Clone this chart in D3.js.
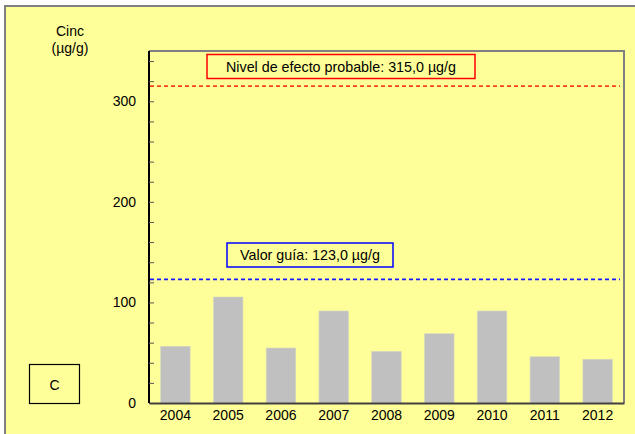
<!DOCTYPE html>
<html>
<head>
<meta charset="utf-8">
<script src="https://cdn.jsdelivr.net/npm/d3@7"></script>
<style>
  html, body { margin: 0; padding: 0; background: #ffffff; }
  svg { display: block; }
  text { font-family: "Liberation Sans", Arial, sans-serif; fill: #000; }
</style>
</head>
<body>
<svg id="chart" width="635" height="434"></svg>
<script>
// Zinc concentration in sediment by year (µg/g)
const years = ["2004", "2005", "2006", "2007", "2008", "2009", "2010", "2011", "2012"];
const zinc = [56.4, 105.4, 54.7, 91.5, 51.4, 68.9, 91.5, 46.0, 43.5];

// Reference thresholds
const thresholdValues = [315.0, 123.0];
const thresholdLabels = ["Nivel de efecto probable: 315,0 µg/g", "Valor guía: 123,0 µg/g"];
const thresholdColors = ["#ff4020", "#1a1aff"];
const thresholdBoxColors = ["#ff0000", "#0000ff"];

const yMajorTicks = [0, 100, 200, 300];
const yMinorTicks = d3.range(0, 351, 20);

const svg = d3.select("#chart");
const W = 635, H = 434;

// Sheet background and frame
svg.append("rect").attr("x", 0).attr("y", 0).attr("width", W).attr("height", H).attr("fill", "#ffffff");
svg.append("rect").attr("x", 5).attr("y", 6).attr("width", 640).attr("height", 440)
  .attr("fill", "#ffff99").attr("stroke", "#808080").attr("stroke-width", 2);

const plot = { left: 149, right: 624, top: 51, bottom: 403 };

const x = d3.scaleBand().domain(years).range([plot.left, plot.right]).paddingInner(0.44).paddingOuter(0.22);
const y = d3.scaleLinear().domain([0, 350]).range([plot.bottom, plot.top]);

// Plot-area frame (top and right)
svg.append("path")
  .attr("d", `M${plot.left},${plot.top}H${plot.right}V${plot.bottom}`)
  .attr("fill", "none").attr("stroke", "#808080").attr("stroke-width", 2);

// Bars
svg.append("g").selectAll("rect").data(years).join("rect")
  .attr("x", d => x(d))
  .attr("width", x.bandwidth())
  .attr("y", (d, i) => y(zinc[i]))
  .attr("height", (d, i) => y(0) - y(zinc[i]))
  .attr("fill", "#c0c0c0")
  .attr("stroke", "#d8d8c0").attr("stroke-width", 0.6);

// Threshold lines
svg.append("g").selectAll("line").data(thresholdValues).join("line")
  .attr("x1", plot.left + 1).attr("x2", plot.right - 4)
  .attr("y1", d => y(d)).attr("y2", d => y(d))
  .attr("stroke", (d, i) => thresholdColors[i])
  .attr("stroke-width", 1.7)
  .attr("stroke-dasharray", "4,3");

// Threshold label boxes
const boxes = [
  { x: 207, y: 54.5, w: 268, h: 24 },
  { x: 227, y: 243, w: 166, h: 24 }
];
thresholdLabels.forEach((lbl, i) => {
  const b = boxes[i];
  svg.append("rect").attr("x", b.x).attr("y", b.y).attr("width", b.w).attr("height", b.h)
    .attr("fill", "#ffff99").attr("stroke", thresholdBoxColors[i]).attr("stroke-width", 1.5);
  svg.append("text").attr("x", b.x + b.w / 2).attr("y", b.y + b.h / 2 + 5)
    .attr("text-anchor", "middle").attr("font-size", 14.3).text(lbl);
});

// Y axis
const yAxis = d3.axisRight(y).tickValues(yMinorTicks).tickSize(5).tickFormat("");
const gy = svg.append("g").attr("transform", `translate(${plot.left},0)`).call(yAxis);
gy.select(".domain").attr("stroke", "#000").attr("stroke-width", 2).attr("d", `M0,${plot.top}V${plot.bottom}`);
gy.selectAll(".tick line").attr("stroke", "#555");
svg.append("g").selectAll("text").data(yMajorTicks).join("text")
  .attr("x", 136).attr("y", d => y(d) + 5)
  .attr("text-anchor", "end").attr("font-size", 14).text(d => d);

// X axis
const xAxis = d3.axisBottom(x).tickSize(0).tickPadding(7);
const gx = svg.append("g").attr("transform", `translate(0,${plot.bottom})`).call(xAxis);
gx.select(".domain").attr("stroke", "#404040").attr("stroke-width", 2);
gx.selectAll("text").attr("font-size", 14).attr("font-family", "Liberation Sans, Arial, sans-serif").attr("fill", "#000");

// Y axis title
svg.append("text").attr("x", 70).attr("y", 36).attr("text-anchor", "middle").attr("font-size", 14).text("Cinc");
svg.append("text").attr("x", 70).attr("y", 53).attr("text-anchor", "middle").attr("font-size", 14).text("(µg/g)");

// Panel letter
svg.append("rect").attr("x", 29.5).attr("y", 364.5).attr("width", 50).attr("height", 39)
  .attr("fill", "#ffff99").attr("stroke", "#000").attr("stroke-width", 1.2);
svg.append("text").attr("x", 54.5).attr("y", 389.5).attr("text-anchor", "middle").attr("font-size", 14).text("C");
</script>
</body>
</html>
